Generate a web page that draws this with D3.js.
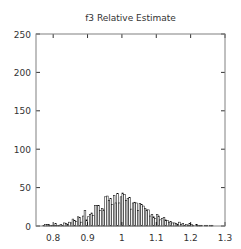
<!DOCTYPE html>
<html><head><meta charset="utf-8">
<script src="https://cdn.jsdelivr.net/npm/d3@7"></script>
<style>body{margin:0;background:#fff}svg{display:block}</style>
</head><body><div id="c"></div>
<script>
const title = "f3 Relative Estimate";
const binStart = [0.770,0.775,0.780,0.785,0.790,0.795,0.800,0.805,0.810,0.815,0.820,0.825,0.830,0.835,0.840,0.845,0.850,0.855,0.860,0.865,0.870,0.875,0.880,0.885,0.890,0.895,0.900,0.905,0.910,0.915,0.920,0.925,0.930,0.935,0.940,0.945,0.950,0.955,0.960,0.965,0.970,0.975,0.980,0.985,0.990,0.995,1.000,1.005,1.010,1.015,1.020,1.025,1.030,1.035,1.040,1.045,1.050,1.055,1.060,1.065,1.070,1.075,1.080,1.085,1.090,1.095,1.100,1.105,1.110,1.115,1.120,1.125,1.130,1.135,1.140,1.145,1.150,1.155,1.160,1.165,1.170,1.175,1.180,1.185,1.190,1.195,1.200,1.205,1.210,1.215,1.220,1.225,1.230,1.235,1.240,1.245,1.250,1.255,1.260,1.265];
const counts = [1,2,2,2,1,1,1,3,1,1,2,1,4,3,2,5,4,9,7,6,12,11,5,13,20,8,12,15,17,14,27,27,27,20,23,21,38,39,33,36,28,40,30,42,30,38,43,41,33,36,37,22,30,31,30,20,29,28,26,23,21,21,13,15,12,10,15,13,8,10,11,8,7,5,6,4,4,3,2,5,2,3,1,2,1,3,2,1,0,2,1,1,1,0,1,1,0,1,1,0];
const binWidth = 0.005;
const xTicks = [0.8,0.9,1,1.1,1.2,1.3];
const xTickLabels = ["0.8","0.9","1","1.1","1.2","1.3"];
const yTicks = [0,50,100,150,200,250];

const W=241,H=249;
const m={l:36,r:16,t:34,b:23};
const svg=d3.select("#c").append("svg").attr("width",W).attr("height",H);
const x=d3.scaleLinear().domain([0.75,1.3]).range([m.l,W-m.r]);
const y=d3.scaleLinear().domain([0,250]).range([H-m.b,m.t]);
const font="DejaVu Sans, sans-serif";

svg.append("g").selectAll("rect").data(binStart).join("rect")
  .attr("x",(d)=>x(d)).attr("width",(d)=>x(d+binWidth)-x(d))
  .attr("y",(d,i)=>y(counts[i])).attr("height",(d,i)=>y(0)-y(counts[i]))
  .attr("fill","#fff").attr("stroke","#000").attr("stroke-width",0.5);

const tl=4;
const g=svg.append("g").attr("stroke","#000").attr("stroke-width",0.8);
xTicks.forEach(t=>{
  g.append("line").attr("x1",x(t)).attr("x2",x(t)).attr("y1",y(0)).attr("y2",y(0)-tl);
  g.append("line").attr("x1",x(t)).attr("x2",x(t)).attr("y1",y(250)).attr("y2",y(250)+tl);
});
yTicks.forEach(t=>{
  g.append("line").attr("x1",x(0.75)).attr("x2",x(0.75)+tl).attr("y1",y(t)).attr("y2",y(t));
  g.append("line").attr("x1",x(1.3)).attr("x2",x(1.3)-tl).attr("y1",y(t)).attr("y2",y(t));
});
svg.append("rect").attr("x",x(0.75)).attr("y",y(250)).attr("width",x(1.3)-x(0.75)).attr("height",y(0)-y(250))
  .attr("fill","none").attr("stroke","#808080").attr("stroke-width",1);

svg.append("g").selectAll("text").data(xTicks).join("text")
  .attr("x",d=>x(d)).attr("y",y(0)+15).attr("text-anchor","middle")
  .attr("font-family",font).attr("font-size",9).attr("fill","#333")
  .text((d,i)=>xTickLabels[i]);
svg.append("g").selectAll("text").data(yTicks).join("text")
  .attr("x",x(0.75)-5).attr("y",d=>y(d)+3.5).attr("text-anchor","end")
  .attr("font-family",font).attr("font-size",9).attr("fill","#333")
  .text(d=>d);
svg.append("text").attr("x",(x(0.75)+x(1.3))/2).attr("y",20.5).attr("text-anchor","middle")
  .attr("font-family",font).attr("font-size",9).attr("fill","#333").text(title);
</script></body></html>
